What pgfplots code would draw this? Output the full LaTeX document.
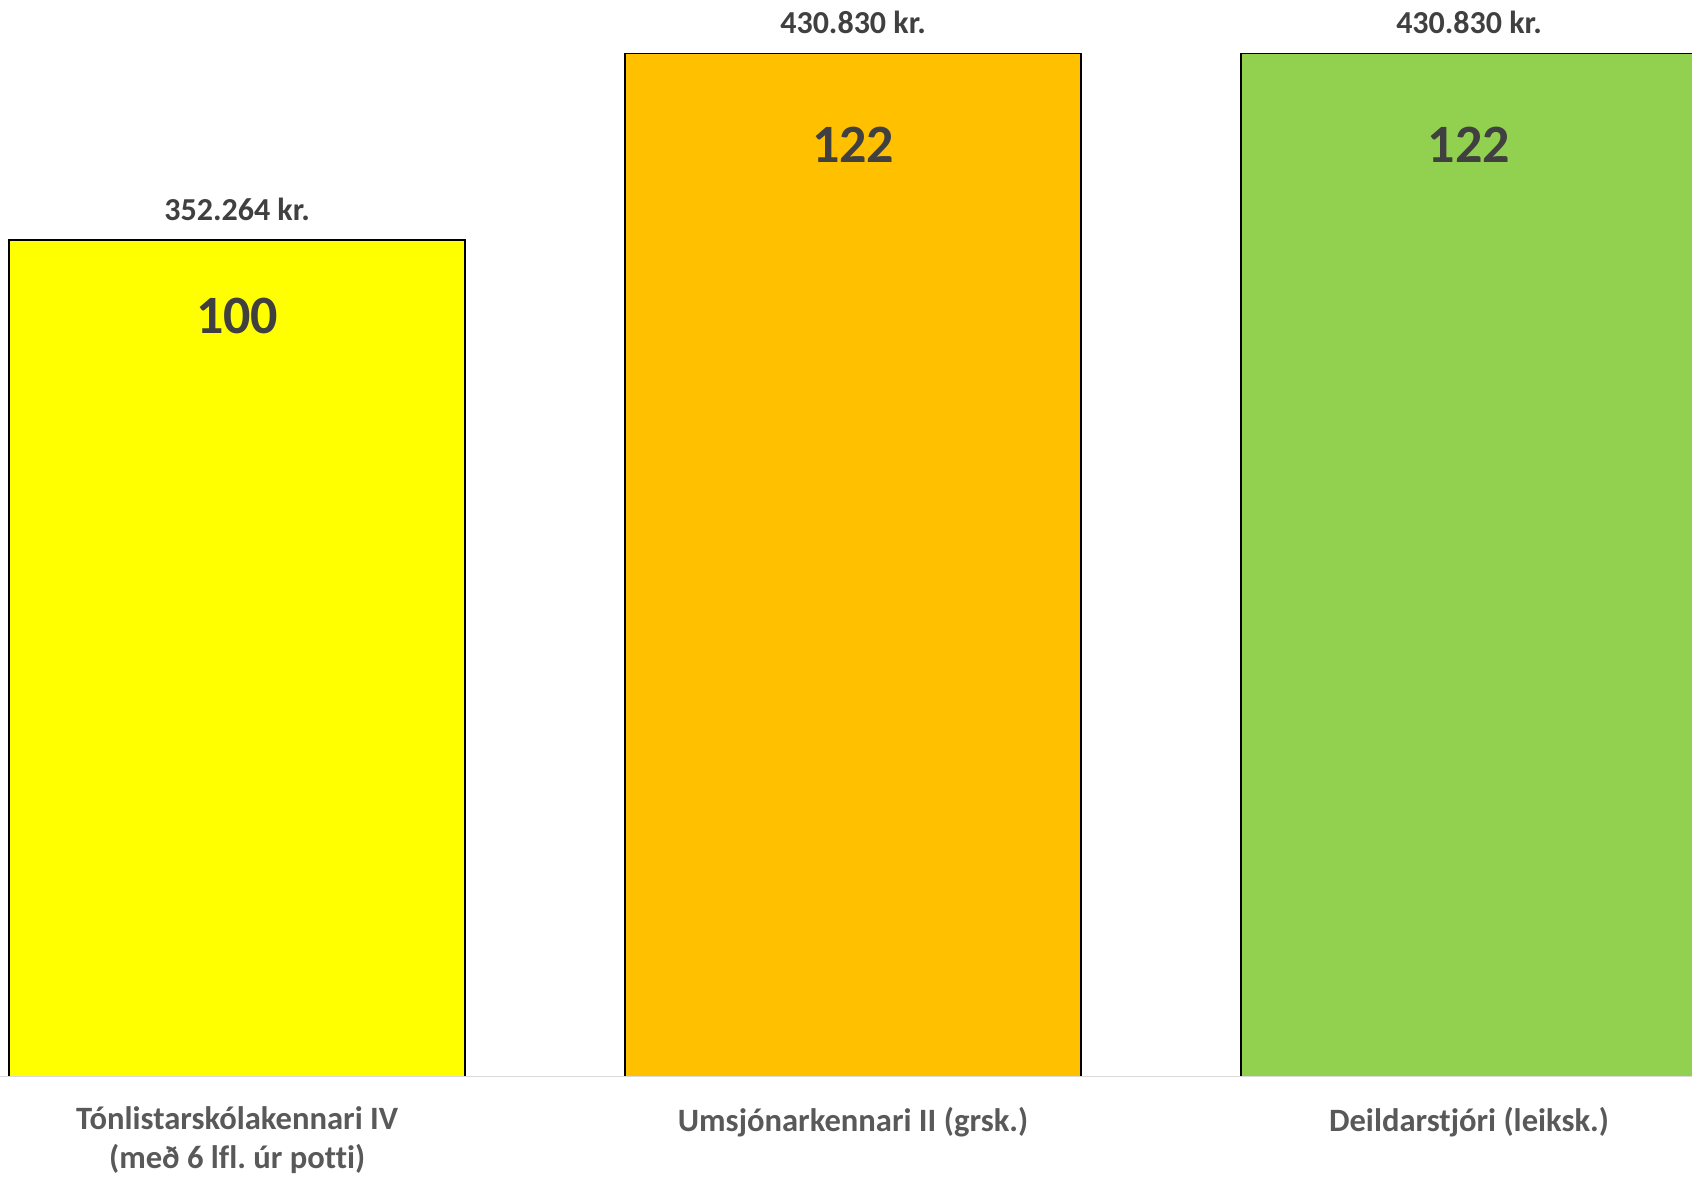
\documentclass[border=0pt]{standalone}
\usepackage{pgfplots}
\pgfplotsset{compat=1.18}
\usepackage{fontspec}
\setmainfont{Carlito}[Ligatures=NoCommon]
\frenchspacing

\definecolor{barY}{HTML}{FFFF00}
\definecolor{barO}{HTML}{FFC000}
\definecolor{barG}{HTML}{92D050}
\definecolor{valtxt}{HTML}{404040}
\definecolor{labtxt}{HTML}{595959}
\definecolor{baseln}{HTML}{D9D9D9}

\newcommand{\smallfont}{\bfseries\fontsize{16}{19.5}\selectfont}
\newcommand{\labfont}{\bfseries\fontsize{16.3}{19.5}\selectfont}
\newcommand{\bigfont}{\bfseries\fontsize{27}{30}\selectfont}

\begin{document}
\begin{tikzpicture}
\begin{axis}[
    at={(0,0)}, anchor=south west,
    scale only axis,
    width=846pt, height=538.5pt,
    xmin=-0.385, xmax=2.362,
    ymin=0, ymax=453260,
    ybar, bar width=228pt, bar shift=0pt,
    axis line style={draw=none},
    ytick=\empty,
    xtick={0,1,2},
    xticklabels={{Tónlistarskólakennari IV\\(með 6 lfl. úr potti)},
                 {Umsjónarkennari II (grsk.)},
                 {Deildarstjóri (leiksk.)}},
    xticklabel style={align=center, font=\labfont, text=labtxt, yshift=-11.5pt},
    major tick length=0pt,
    point meta=explicit symbolic,
]

% bars with the monthly salary above
\addplot[fill=barY, draw=black, line width=0.75pt, nodes near coords,
    every node near coord/.append style={anchor=center, yshift=15.3pt, font=\smallfont, text=valtxt}]
    coordinates {(0,352264) [352.264 kr.]};
\addplot[fill=barO, draw=black, line width=0.75pt, nodes near coords,
    every node near coord/.append style={anchor=center, yshift=15.5pt, font=\smallfont, text=valtxt}]
    coordinates {(1,430830) [430.830 kr.]};
\addplot[fill=barG, draw=black, line width=0.75pt, nodes near coords,
    every node near coord/.append style={anchor=center, yshift=15.5pt, font=\smallfont, text=valtxt}]
    coordinates {(2,430830) [430.830 kr.]};

% index labels inside the bars
\addplot[draw=none, fill=none, nodes near coords,
    every node near coord/.append style={anchor=center, yshift=-38pt, font=\bigfont, text=valtxt}]
    coordinates {(0,352264) [100]};
\addplot[draw=none, fill=none, nodes near coords,
    every node near coord/.append style={anchor=center, yshift=-46pt, font=\bigfont, text=valtxt}]
    coordinates {(1,430830) [122] (2,430830) [122]};

\draw[baseln, line width=1.2pt] (rel axis cs:0,0) -- (rel axis cs:1,0);
\end{axis}
\pgfresetboundingbox
\path[use as bounding box] (0,-50pt) rectangle (846pt,538.5pt);
\end{tikzpicture}
\end{document}
